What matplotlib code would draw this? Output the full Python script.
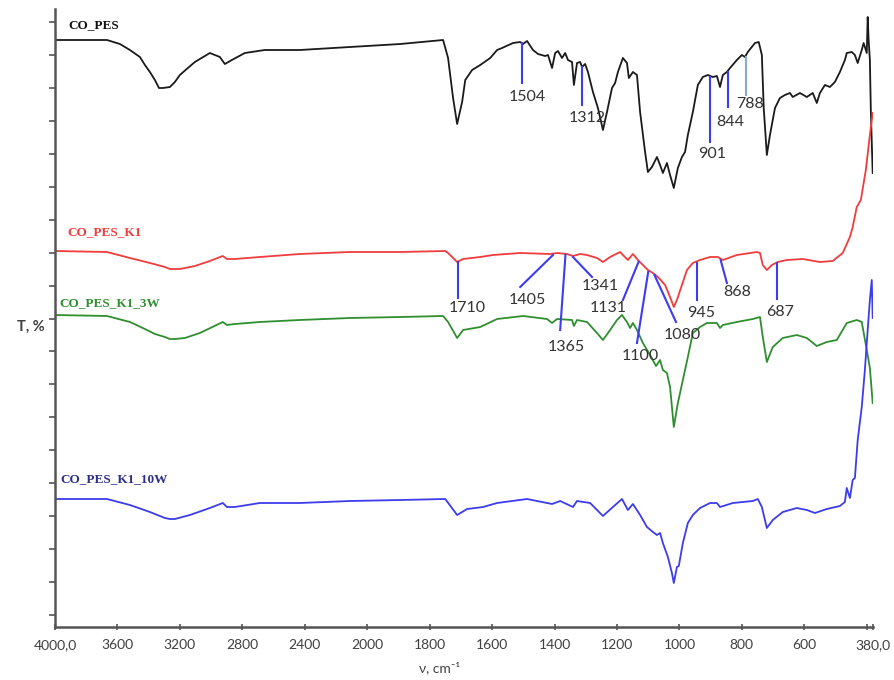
import numpy as np
import matplotlib
matplotlib.use("Agg")
import matplotlib.pyplot as plt

# FTIR spectra, stacked (arbitrary T units), wavenumber in cm-1
wn_pes = [4000, 3667, 3584, 3520, 3456, 3424, 3392, 3360, 3334, 3309, 3264, 3232, 3200, 3149,
          3104, 3008, 2944, 2912, 2867, 2784,
          2656, 2432, 2112, 1894, 1757, 1741, 1725, 1712, 1696, 1686, 1664, 1638, 1606, 1584,
          1568, 1533, 1510, 1501, 1488, 1469, 1453, 1430, 1421, 1408, 1398, 1389, 1376, 1366,
          1357, 1344, 1338, 1328, 1318, 1312, 1302, 1293, 1277, 1261, 1245, 1232, 1216, 1206,
          1197, 1181, 1168, 1162, 1149, 1136, 1126, 1110, 1101, 1088, 1072, 1062, 1053, 1040,
          1030, 1018, 1005, 992, 982, 973, 957, 941, 925, 909, 893, 880, 870, 861, 848, 838,
          816, 800, 790, 781, 758, 746, 736, 730, 720, 710, 694, 678, 662, 646, 637, 614, 592,
          573, 560, 550, 534, 518, 502, 486, 470, 464, 448, 438, 429, 416, 410, 400, 397, 394,
          390, 387, 381]
t_pes = [587, 587, 583, 577, 570, 562, 555, 547, 539, 539, 540, 545, 552, 559,
         565, 574, 570, 563, 567, 574,
         577, 577, 580, 583, 587, 569, 529, 503, 525, 547, 557, 562, 569, 577,
         579, 584, 585, 583, 586, 577, 573, 571, 572, 559, 574, 576, 569, 574,
         567, 565, 542, 564, 565, 560, 563, 555, 535, 519, 497, 515, 539, 544,
         555, 569, 564, 549, 555, 552, 515, 475, 455, 460, 470, 462, 454, 464,
         452, 439, 459, 470, 475, 492, 515, 542, 550, 552, 550, 551, 540, 552, 555, 559,
         567, 572, 570, 575, 584, 585, 572, 519, 472, 492, 519, 529, 532, 534, 530, 534, 530,
         534, 524, 534, 542, 540, 545, 555, 567, 574, 575, 572, 564, 577, 584, 574, 610, 587,
         567, 517, 454]

wn_k1 = [4000, 3667, 3520, 3392, 3296, 3264, 3232, 3200, 3104, 3008, 2925, 2899, 2848, 2688,
         2432, 2112,
         1894, 1750, 1741, 1712, 1693, 1638, 1597, 1510, 1414, 1392, 1360, 1341, 1318, 1296,
         1264, 1245, 1222, 1190, 1181, 1165, 1149, 1133, 1117, 1101, 1085, 1069, 1046, 1030,
         1018, 1008, 992, 976, 957, 934, 902, 877, 861, 816, 752, 742, 733, 720, 704, 685,
         656, 605, 550, 509, 477, 454, 445, 432, 419, 403, 390, 381]
t_k1 = [376, 375, 369, 364, 360, 358, 358, 358, 361, 366, 371, 368, 368, 370,
        373, 375,
        375, 376, 374, 365, 368, 370, 372, 374, 373, 374, 373, 371, 373, 372,
        369, 365, 370, 375, 372, 367, 373, 367, 362, 357, 354, 350, 342, 330,
        320, 327, 342, 357, 364, 367, 370, 370, 367, 372, 375, 374, 362, 357, 362, 365,
        367, 368, 365, 366, 374, 390, 400, 420, 427, 457, 492, 514]

wn_k1_3w = [4000, 3667, 3520, 3424, 3360, 3296, 3264, 3232, 3168, 3072, 2925, 2899, 2848, 2688,
            2432, 2112, 1894,
            1757, 1741, 1712, 1693, 1638, 1584, 1501, 1424, 1408, 1392, 1344, 1338, 1328, 1296,
            1264, 1245, 1222, 1200, 1184, 1168, 1158, 1149, 1136, 1117, 1094, 1075, 1062, 1053,
            1040, 1030, 1018, 1005, 989, 973, 957, 934, 912, 880, 870, 861, 816, 765, 742, 733,
            720, 701, 669, 624, 592, 560, 528, 496, 464, 432, 416, 400, 390, 381]
t_k1_3w = [312, 311, 305, 298, 293, 290, 288, 288, 289, 294, 305, 302, 303, 305,
           307, 309, 310,
           311, 305, 289, 297, 300, 308, 311, 308, 304, 308, 307, 301, 307, 305,
           294, 287, 297, 307, 312, 305, 299, 304, 297, 284, 272, 261, 267, 257,
           254, 240, 200, 224, 247, 270, 294, 300, 304, 304, 299, 302, 305, 308, 310, 290,
           265, 280, 289, 292, 289, 281, 285, 287, 304, 307, 305, 277, 259, 224]

wn_k1_10w = [4000, 3667, 3520, 3392, 3296, 3264, 3232, 3136, 3008, 2925, 2899, 2848, 2688, 2432,
             2112,
             1894, 1750, 1712, 1680, 1629, 1584, 1488, 1408, 1382, 1341, 1328, 1286, 1245, 1213,
             1184, 1165, 1149, 1126, 1104, 1085, 1072, 1062, 1053, 1037, 1024, 1018, 1008, 1002,
             989, 973, 957, 934, 902, 880, 870, 829, 765, 749, 736, 720, 701, 669, 624, 592,
             566, 528, 486, 470, 464, 454, 445, 438, 429, 416, 406, 397, 390, 384, 381]
t_k1_10w = [128, 128, 122, 115, 109, 108, 108, 112, 119, 124, 120, 120, 124, 124,
            126,
            127, 128, 112, 118, 120, 124, 128, 123, 126, 120, 126, 124, 111, 120,
            128, 117, 123, 112, 100, 95, 92, 94, 84, 70, 54, 44, 60, 61,
            84, 104, 112, 119, 124, 124, 120, 124, 126, 128, 120, 99, 107, 115, 119, 117,
            114, 118, 121, 125, 139, 129, 147, 149, 187, 220, 257, 297, 327, 347, 309]

series = [
    ("CO_PES", wn_pes, t_pes, "#1a1a1a", "#111111", 3917, 602),
    ("CO_PES_K1", wn_k1, t_k1, "#f03c3c", "#f03c3c", 3923, 395),
    ("CO_PES_K1_3W", wn_k1_3w, t_k1_3w, "#2f8f2f", "#2f8f2f", 3974, 324),
    ("CO_PES_K1_10W", wn_k1_10w, t_k1_10w, "#3c3cec", "#2e2e8a", 3968, 148),
]

# peak marks: wavenumber, top of line, lower end (wn, T), label centre (wn, T)
peaks_pes = [
    (1504, 584, 1504, 544, 1488, 530),
    (1312, 560, 1312, 522, 1296, 509),
    (901, 550, 901, 485, 896, 473),
    (844, 555, 844, 520, 838, 505),
    (788, 570, 788, 532, 774, 523),
]
peaks_k1 = [
    (1710, 365, 1710, 329, 1680, 319),
    (1405, 372, 1510, 340, 1488, 327),
    (1365, 372, 1382, 297, 1363, 280),
    (1341, 370, 1280, 350, 1254, 341),
    (1131, 365, 1181, 327, 1229, 319),
    (1100, 355, 1136, 284, 1126, 271),
    (1080, 352, 1011, 305, 992, 292),
    (945, 364, 945, 327, 931, 314),
    (868, 367, 848, 344, 816, 335),
    (687, 364, 687, 328, 678, 315),
]

x_ticks = [4000, 3600, 3200, 2800, 2400, 2000, 1800, 1600, 1400, 1200, 1000, 800, 600, 380]
x_tick_labels = ["4000,0", "3600", "3200", "2800", "2400", "2000", "1800", "1600", "1400",
                 "1200", "1000", "800", "600", "380,0"]


# spectrometer axis: half scale above 2000 cm-1
def fwd(w):
    w = np.asarray(w, dtype=float)
    return np.where(w > 2000, 2000 + (w - 2000) / 2, w)


def inv(u):
    u = np.asarray(u, dtype=float)
    return np.where(u > 2000, 2000 + (u - 2000) * 2, u)


fig = plt.figure(figsize=(8.95, 6.8), dpi=100)
ax = fig.add_axes([55 / 895, 53 / 680, 818 / 895, 618 / 680])
ax.set_xscale("function", functions=(fwd, inv))
ax.set_xlim(4000, 380)
ax.set_ylim(0, 618)

for name, wn, t, color, label_color, lx, ly in series:
    ax.plot(wn, t, color=color, lw=1.3)
    ax.text(lx, ly, name, color=label_color, fontsize=9.5, fontweight="bold",
            family="Liberation Serif", va="center", ha="left")

for w, top, w2, bottom, tx, ty in peaks_pes + peaks_k1:
    c = "#8aa6dc" if w == 788 else "#3c3cf0"
    ax.plot([w, w2], [top, bottom], color=c, lw=1.5)
    ax.text(tx, ty, str(w), fontsize=11.5, family="Lato", color="#333333",
            ha="center", va="center")

ax.set_xticks(x_ticks)
ax.set_xticklabels(x_tick_labels, fontsize=10, family="Lato", color="#404040")
ax.set_xticks([400], minor=True)
ax.set_yticks(np.arange(12, 618, 32.94))
ax.set_yticklabels([])
ax.tick_params(axis="x", which="both", direction="inout", length=5, width=1.2,
               color="#555555", pad=6)
ax.tick_params(axis="y", direction="out", length=4, width=1.2, color="#555555")

for side in ["top", "right"]:
    ax.spines[side].set_visible(False)
for side in ["left", "bottom"]:
    ax.spines[side].set_color("#555555")
    ax.spines[side].set_linewidth(1.8)

fig.text(440 / 895, 1 - 668 / 680, "ν, cm⁻¹", fontsize=10, family="Lato",
         color="#404040", ha="center", va="center")
fig.text(31 / 895, 1 - 327 / 680, "T, %", fontsize=10.5, family="Lato",
         color="#404040", ha="center", va="center", fontweight="bold")

fig.savefig("out.png", dpi=100)
